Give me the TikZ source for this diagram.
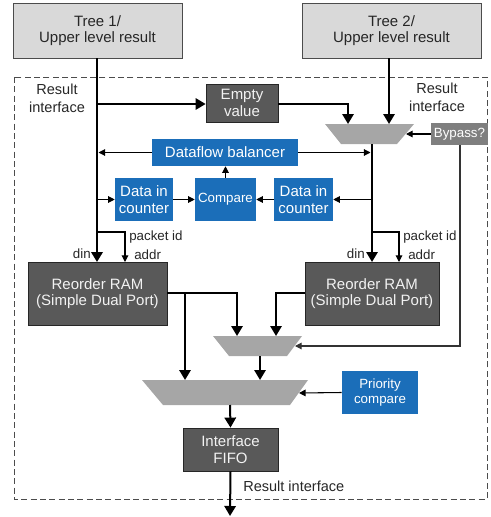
\documentclass[tikz,border=0pt]{standalone}
\usepackage{fontspec}
\setmainfont{Liberation Sans}
\usetikzlibrary{arrows.meta}
\definecolor{treefill}{HTML}{D9D9D9}
\definecolor{darkfill}{HTML}{595959}
\definecolor{bluefill}{HTML}{1B6EB9}
\definecolor{bypassfill}{HTML}{7F7F7F}
\definecolor{muxfill}{HTML}{A6A6A6}
\definecolor{txt}{HTML}{262626}
\begin{document}
\begin{tikzpicture}[x=0.75pt,y=-0.75pt,
  box/.style={inner sep=0pt, align=center, font=\fontsize{11.25}{12.5}\selectfont},
  treebox/.style={box, fill=treefill, draw=black!70, line width=0.6pt, text=txt},
  darkbox/.style={box, fill=darkfill, draw=black!85, line width=0.6pt, text=white!95!black},
  bluebox/.style={box, fill=bluefill, text=white},
  smallbox/.style={font=\fontsize{10}{11.5}\selectfont},
  lbl/.style={inner sep=0pt, text=txt, font=\fontsize{10}{11.5}\selectfont},
  rilbl/.style={inner sep=0pt, align=center, text=txt, font=\fontsize{10.9}{13.5}\selectfont},
  data/.style={line width=1.5pt, draw=black, -{Triangle[length=7.5pt,width=8.5pt]}},
  ctrl/.style={line width=0.8pt, draw=black, -{Triangle[length=5pt,width=5pt]}},
  mux/.style={fill=muxfill}
]
\useasboundingbox (0,0) rectangle (490,517);

% dashed frame
\draw[black!70, line width=0.7pt, dash pattern=on 4.5pt off 2.5pt] (14,77) rectangle (487,499);

% boxes
\node[treebox, minimum width=126.75pt, minimum height=41.25pt] (tree1) at (97.5,30.5) {Tree 1/\\Upper level result};
\node[treebox, minimum width=134.25pt, minimum height=41.25pt] (tree2) at (391.5,30.5) {Tree 2/\\Upper level result};
\node[darkbox, minimum width=54pt, minimum height=28.5pt] (empty) at (242,103) {Empty\\value};
\node[box, fill=bypassfill, text=white, smallbox, minimum width=42.75pt, minimum height=16.5pt] (bypass) at (459.5,134) {Bypass?};
\node[bluebox, minimum width=109.5pt, minimum height=20.25pt] (bal) at (225,152.5) {Dataflow balancer};
\node[bluebox, minimum width=43.5pt, minimum height=32.25pt] (dicl) at (144,199.5) {Data in\\counter};
\node[bluebox, smallbox, minimum width=45.75pt, minimum height=32.25pt] (cmp) at (225.5,199.5) {Compare};
\node[bluebox, minimum width=44.25pt, minimum height=32.25pt] (dicr) at (303.5,199.5) {Data in\\counter};
\node[darkbox, minimum width=104.25pt, minimum height=47.25pt] (raml) at (97.5,293.5) {Reorder RAM\\(Simple Dual Port)};
\node[darkbox, minimum width=100.5pt, minimum height=47.25pt] (ramr) at (372,293.5) {Reorder RAM\\(Simple Dual Port)};
\node[bluebox, smallbox, minimum width=57pt, minimum height=32.25pt] (prio) at (380,392.5) {Priority\\compare};
\node[darkbox, minimum width=71.25pt, minimum height=32.25pt] (fifo) at (230.5,449.5) {Interface\\FIFO};

% multiplexers
\fill[mux] (325,124) -- (414,124) -- (397,144) -- (341,144) -- cycle;
\fill[mux] (213,336) -- (302,336) -- (287,356) -- (229,356) -- cycle;
\fill[mux] (142,380) -- (308,380) -- (290,405) -- (163,405) -- cycle;
\coordinate (m1inl) at (348,124);
\coordinate (m1inr) at (389,124);
\coordinate (m1sel) at (406,134);
\coordinate (m1out) at (372,144);
\coordinate (m2inl) at (237,336);
\coordinate (m2inr) at (276,336);
\coordinate (m2sel) at (295,346);
\coordinate (m2out) at (260,356);
\coordinate (m3inl) at (185,380);
\coordinate (m3inr) at (260,380);
\coordinate (m3sel) at (299,393);
\coordinate (m3out) at (230,405);
\coordinate (dinl) at (97,262);
\coordinate (addrl) at (125,262);
\coordinate (dinr) at (372,262);
\coordinate (addrr) at (399,262);
\coordinate (outend) at (230,516);

% labels
\node[rilbl] (rileft) at (57,98) {Result\\interface};
\node[rilbl] (riright) at (437,97) {Result\\interface};
\node[lbl, anchor=east] (dinll) at (91,254) {din};
\node[lbl, anchor=west] (pidl) at (129,237) {packet id};
\node[lbl, anchor=west] (addrll) at (134,255) {addr};
\node[lbl, anchor=east] (dinrl) at (365,254) {din};
\node[lbl, anchor=west] (pidr) at (403,237) {packet id};
\node[lbl, anchor=west] (addrrl) at (408,255) {addr};
\node[rilbl, anchor=west] (riout) at (243,486) {Result interface};

% connectors
\draw[data, line width=2pt] (tree1.south -| dinl) -- (dinl);
\draw[data] (97,104) -- (empty.west |- 0,104);
\draw[data] (empty.east |- 0,104) -- (348,104) -- (m1inl);
\draw[data] (tree2.south -| m1inr) -- (m1inr);
\draw[ctrl] (bypass.west) -- (m1sel);
\draw[ctrl, draw=black!80] (bypass.south -| 460,0) -- (460,346) -- (m2sel);
\draw[data] (m1out) -- (dinr);

\draw[ctrl] (bal.west) -- (98.5,152.5);
\draw[ctrl] (bal.east) -- (370.5,152.5);
\draw[ctrl] (97,199.5) -- (dicl.west);
\draw[ctrl] (dicl.east) -- (cmp.west);
\draw[ctrl] (dicr.west) -- (cmp.east);
\draw[ctrl] (372,199.5) -- (dicr.east);
\draw[ctrl] (cmp.north) -- (bal.south -| cmp.north);

\draw[ctrl] (97,232) -- (125,232) -- (addrl);
\draw[ctrl] (372,232) -- (399,232) -- (addrr);

\draw[data] (raml.east |- 0,293) -- (237,293) -- (m2inl);
\draw[data] (185,293) -- (m3inl);
\draw[data] (ramr.west |- 0,293) -- (276,293) -- (m2inr);
\draw[data] (m2out) -- (m3inr);
\draw[ctrl] (prio.west) -- (m3sel);
\draw[data] (m3out) -- (fifo.north);
\draw[data] (fifo.south) -- (outend);
\end{tikzpicture}
\end{document}
